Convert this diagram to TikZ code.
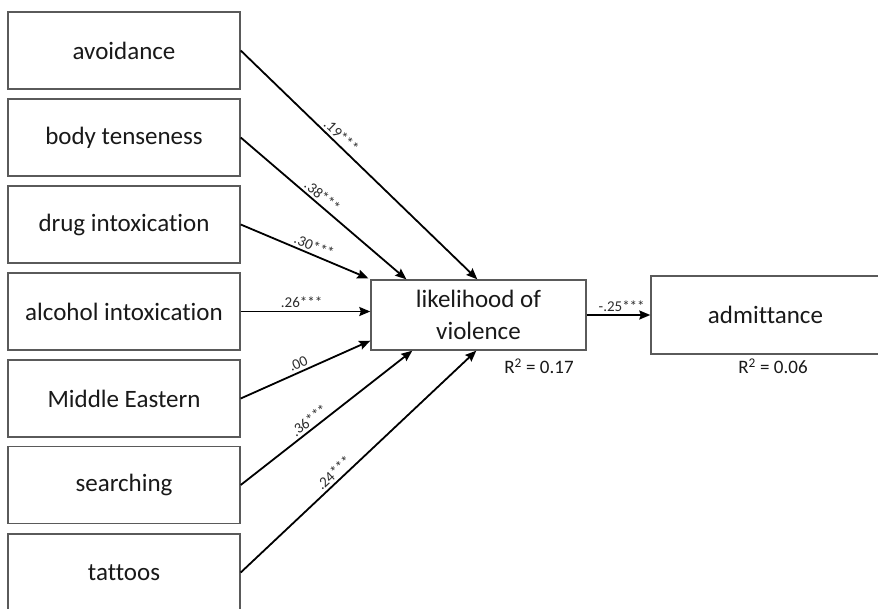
\documentclass[tikz,border=0pt]{standalone}
\usepackage{fontspec}
\setmainfont{Carlito}[Ligatures={NoCommon}]
\usetikzlibrary{calc,arrows.meta}
\definecolor{boxgray}{RGB}{90,90,90}
\definecolor{txt}{RGB}{25,25,25}
\definecolor{labgray}{RGB}{45,45,45}
\begin{document}
\begin{tikzpicture}[x=1pt,y=-1pt,
  box/.style={draw=boxgray, line width=1.4pt, minimum width=232pt, minimum height=77pt,
    inner sep=0pt, font=\fontsize{25}{32}\selectfont, text=txt, fill=white},
  conn/.style={draw=black, line width=1.8pt, -{Stealth[length=11pt,width=9pt,inset=1.5pt]}},
  coef/.style={font=\fontsize{15}{17}\selectfont, text=labgray, sloped, above, inner sep=2.5pt},
  rsq/.style={font=\fontsize{19}{22}\selectfont, text=txt, inner sep=0pt}
]
\useasboundingbox (0,0) rectangle (878,608);
\clip (0,0) rectangle (878,608);
\fill[white] (0,0) rectangle (878,608);

% predictor boxes
\node[box] (av) at (124,50.5) {avoidance};
\node[box] (bt) at (124,137.5) {body tenseness};
\node[box] (dr) at (124,224.5) {drug intoxication};
\node[box] (al) at (124,311.5) {alcohol intoxication};
\node[box] (me) at (124,398.5) {Middle Eastern};
\node[box] (se) at (124,485) {searching};
\node[box] (ta) at (124,572.5) {tattoos};

% mediator and outcome
\node[box, minimum width=215pt, minimum height=70pt, align=center] (lik) at (478.5,315) {likelihood of\\violence};
\node[box, minimum width=229pt, minimum height=78pt] (adm) at (765.5,315) {admittance};

\node[rsq] (r1) at (539,366) {R\textsuperscript{2} = 0.17};
\node[rsq] (r2) at (773,366) {R\textsuperscript{2} = 0.06};

% arrow targets on the likelihood box
\coordinate (t1) at ($(lik.north west)+(107,0)$);
\coordinate (t2) at ($(lik.north west)+(36,0)$);
\coordinate (t3) at ($(lik.north west)+(-2,-1)$);
\coordinate (t4) at (lik.west |- al.east);
\coordinate (t5) at ($(lik.south west)+(0,-10)$);
\coordinate (t6) at ($(lik.south west)+(42,0)$);
\coordinate (t7) at ($(lik.south west)+(106,0)$);

\draw[conn] (av.east) -- node[coef, pos=0.40] {.19***} (t1);
\draw[conn] (bt.east) -- node[coef, pos=0.46] {.38***} (t2);
\draw[conn] (dr.east) -- node[coef, pos=0.55] {.30***} (t3);
\draw[conn] (al.east) -- node[coef, pos=0.47] {.26***} (t4);
\draw[conn] (me.east) -- node[coef, pos=0.47] {.00} (t5);
\draw[conn] (se.east) -- node[coef, pos=0.43] {.36***} (t6);
\draw[conn] (ta.east) -- node[coef, pos=0.42] {.24***} (t7);

\draw[conn] (lik.east) -- node[coef, pos=0.55] {-.25***} (adm.west);
\end{tikzpicture}
\end{document}
